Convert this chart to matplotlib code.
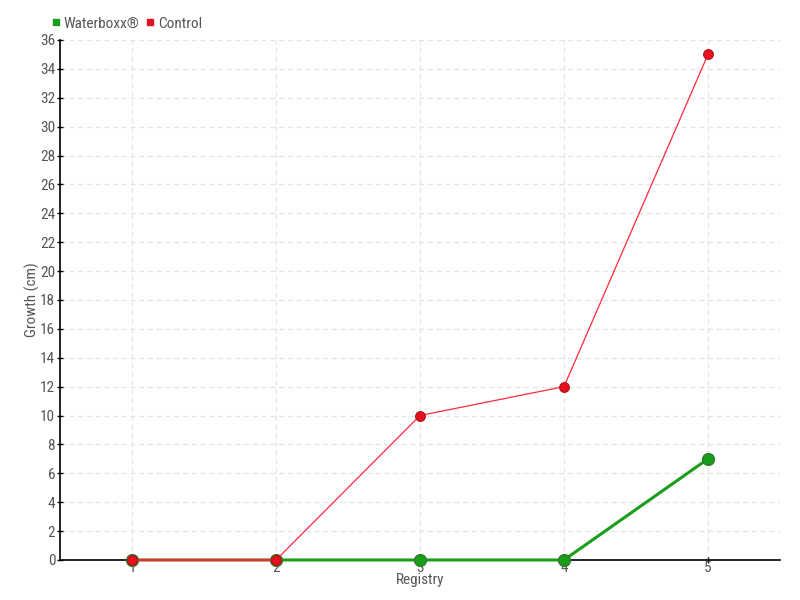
import matplotlib
matplotlib.use("Agg")
import matplotlib.pyplot as plt
from matplotlib.lines import Line2D
from matplotlib import font_manager

registry = [1, 2, 3, 4, 5]
waterboxx = [0, 0, 0, 0, 7]
control = [0, 0, 10, 12, 35]
yticks = list(range(0, 37, 2))

names = {f.name for f in font_manager.fontManager.ttflist}
fam = [n for n in ['Liberation Sans Narrow', 'DejaVu Sans Condensed', 'Roboto Condensed'] if n in names]
plt.rcParams['font.family'] = fam + ['DejaVu Sans']
fig = plt.figure(figsize=(8, 6), dpi=100)
ax = fig.add_axes([0.075, 0.0667, 0.9, 0.8667])

ax.plot(registry, waterboxx, color='#1a9e1a', lw=2.2, marker='o', ms=8.5,
        markerfacecolor='#1a9e1a', markeredgecolor='#2f7a2f', markeredgewidth=1, zorder=3, clip_on=False)
ax.plot(registry, control, color='#ff2a3a', lw=0.9, marker='o', ms=7,
        markerfacecolor='#e8101e', markeredgecolor='#b01018', markeredgewidth=0.8, zorder=5, clip_on=False)
ax.plot(registry[:2], control[:2], color='#ff1a2a', lw=1.6, zorder=4, clip_on=False)

ax.set_xlim(0.5, 5.5)
ax.set_ylim(0, 36)
ax.set_yticks(yticks)
ax.set_xticks(registry)
ax.grid(True, color='#e4e4e4', linestyle=(0, (4, 3)), linewidth=0.9)
ax.set_axisbelow(True)
for s in ['top', 'right']:
    ax.spines[s].set_visible(False)
for s in ['left', 'bottom']:
    ax.spines[s].set_color('black')
    ax.spines[s].set_linewidth(1.2)
ax.tick_params(direction='inout', length=5, width=1, labelsize=11, labelcolor='#555555', pad=1)
ax.tick_params(axis='x', pad=-2)
ax.set_xlabel('Registry', fontsize=11, color='#555555', labelpad=-1)
ax.set_ylabel('Growth (cm)', fontsize=11, color='#555555', labelpad=0)

handles = [Line2D([], [], color='#1a9e1a', marker='s', ls='', ms=5),
           Line2D([], [], color='#e8101e', marker='s', ls='', ms=5)]
fig.legend(handles, ['Waterboxx®', 'Control'], loc='upper left', bbox_to_anchor=(0.045, 0.995),
           ncol=2, frameon=False, fontsize=11, handletextpad=0.1, columnspacing=0.3,
           labelcolor='#555555', handlelength=0.8)

fig.savefig('out.png', dpi=100)
